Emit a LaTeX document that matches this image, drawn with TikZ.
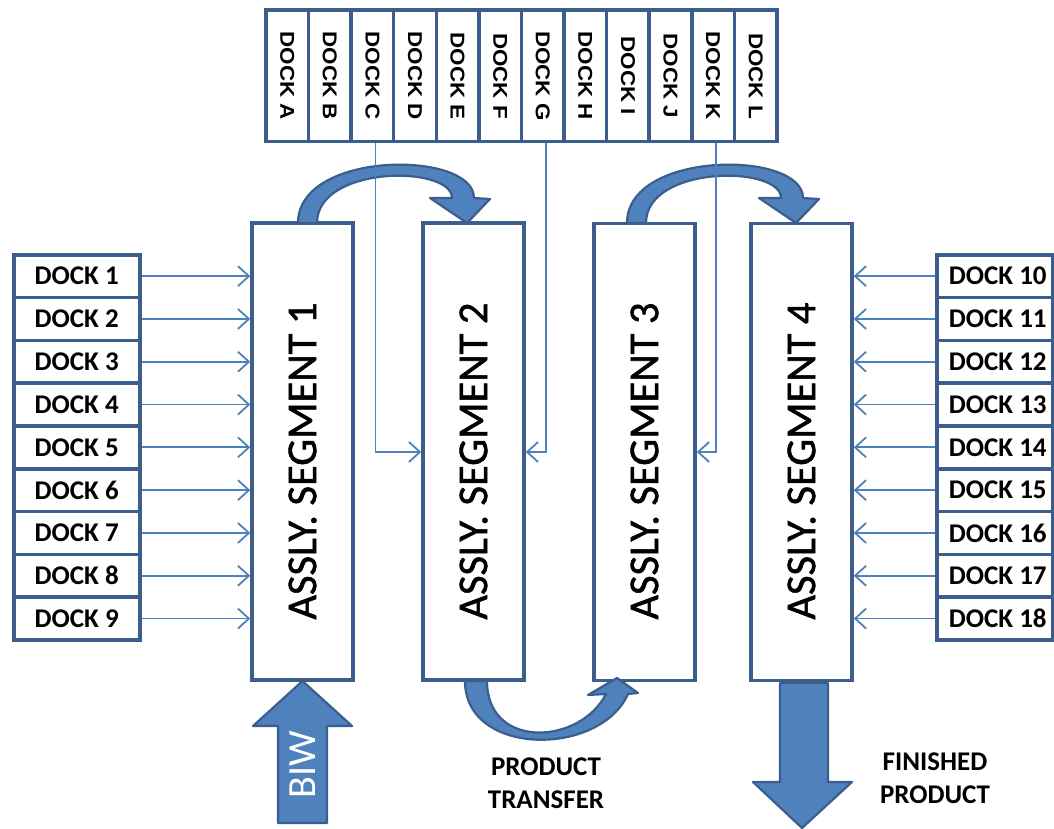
\documentclass[tikz,border=0pt]{standalone}
\usepackage{fontspec}
\usepackage{graphicx}
\setmainfont{Carlito}
\newfontfamily\dockfont{Liberation Sans}
\newfontfamily\segfont[FakeBold=1.2]{Carlito}
\usetikzlibrary{arrows.meta}
\definecolor{frame}{HTML}{3B5E8C}
\definecolor{link}{HTML}{4F81BD}

\begin{document}
\begin{tikzpicture}[x=1pt,y=-1pt,
  dockbox/.style={draw=frame, line width=3.5pt, fill=white, inner sep=0pt,
    minimum width=126pt, minimum height=42.8pt, anchor=north west,
    font=\bfseries\fontsize{27}{27}\selectfont},
  topdock/.style={draw=frame, line width=3.5pt, fill=white, inner sep=0pt,
    minimum width=42.58pt, minimum height=131.5pt,
    font=\dockfont\bfseries\fontsize{20}{20}\selectfont},
  segbox/.style={draw=frame, line width=3.5pt, fill=white, inner sep=0pt,
    minimum width=101pt, minimum height=457pt},
  seglabel/.style={font=\segfont\fontsize{42.5}{42.5}\selectfont, inner sep=0pt},
  link/.style={draw=link, line width=1.8pt,
    -{Straight Barb[length=11pt,width=20pt]}},
  bigarrow/.style={fill=link, draw=frame, line width=2.2pt, line join=round},
  caption/.style={font=\bfseries\fontsize{27}{33}\selectfont, align=center}
]
\useasboundingbox (0,0) rectangle (1054,829);

% assembly segments
\node[segbox] (S1) at (302.5,451.5) {};
\node[segbox] (S2) at (473.5,451.5) {};
\node[segbox] (S3) at (644.5,452) {};
\node[segbox] (S4) at (801.5,452) {};
\node[seglabel, rotate=90] at (302.5,461) {ASSLY. SEGMENT 1};
\node[seglabel, rotate=90] at (473.5,461) {ASSLY. SEGMENT 2};
\node[seglabel, rotate=90] at (644.5,461) {ASSLY. SEGMENT 3};
\node[seglabel, rotate=90] at (801.5,461) {ASSLY. SEGMENT 4};

% side docks
\foreach \i in {1,...,9} {
  \node[dockbox] (L\i) at (12,{253+(\i-1)*42.8}) {DOCK \i};
}
\foreach \i [evaluate=\i as \n using int(\i+9)] in {1,...,9} {
  \node[dockbox, minimum width=116pt] (R\i) at (935,{253+(\i-1)*42.8}) {\hspace*{6pt}DOCK \n};
}

% top docks
\foreach \l [count=\k from 0] in {A,B,C,D,E,F,G,H,I,J,K,L} {
  \node[topdock] (d\l) at ({266+(\k+0.5)*42.58},76)
    {\rotatebox{-90}{\scalebox{1.12}[1]{DOCK \l}}};
}

% curved product transfers
\draw[bigarrow] (298,223) .. controls (298,150) and (474,150) .. (474,198)
  -- (490,199) -- (467,223) -- (430,198) -- (452,198)
  .. controls (452,165) and (317,165) .. (317,223) -- cycle;
\draw[bigarrow] (627,223) .. controls (627,150) and (803,150) .. (803,198)
  -- (819,199) -- (796,223) -- (759,198) -- (781,198)
  .. controls (781,165) and (646,165) .. (646,223) -- cycle;
\draw[bigarrow] (465,681) .. controls (465,757) and (600,757) .. (628,694)
  -- (638,693) -- (617,678) -- (588,695) -- (606,694)
  .. controls (580,745) and (487,750) .. (487,681) -- cycle;

% body in white and finished product
\draw[bigarrow] (302.5,681) -- (352,726) -- (327,726) -- (327,823)
  -- (278,823) -- (278,726) -- (253,726) -- cycle;
\node[rotate=90, text=white, font=\fontsize{40}{40}\selectfont] (biw) at (302.5,765) {BIW};
\draw[bigarrow] (780,683) -- (828,683) -- (828,782) -- (852,782)
  -- (802,828) -- (753,782) -- (780,782) -- cycle;

\node[caption] (pt) at (546,783) {PRODUCT\\TRANSFER};
\node[caption] (fp) at (935,778) {FINISHED\\PRODUCT};

% feeder lines
\foreach \i in {1,...,9} {
  \draw[link] (L\i.east) -- (L\i.east -| S1.west);
  \draw[link] (R\i.west) -- (R\i.west -| S4.east);
}
\coordinate (feed) at (0,452);
\draw[link] ([xshift=3pt]dC.south) |- (S2.west |- feed);
\draw[link] ([xshift=3pt]dG.south) |- (S2.east |- feed);
\draw[link] ([xshift=3pt]dK.south) |- (S3.east |- feed);
\end{tikzpicture}
\end{document}
